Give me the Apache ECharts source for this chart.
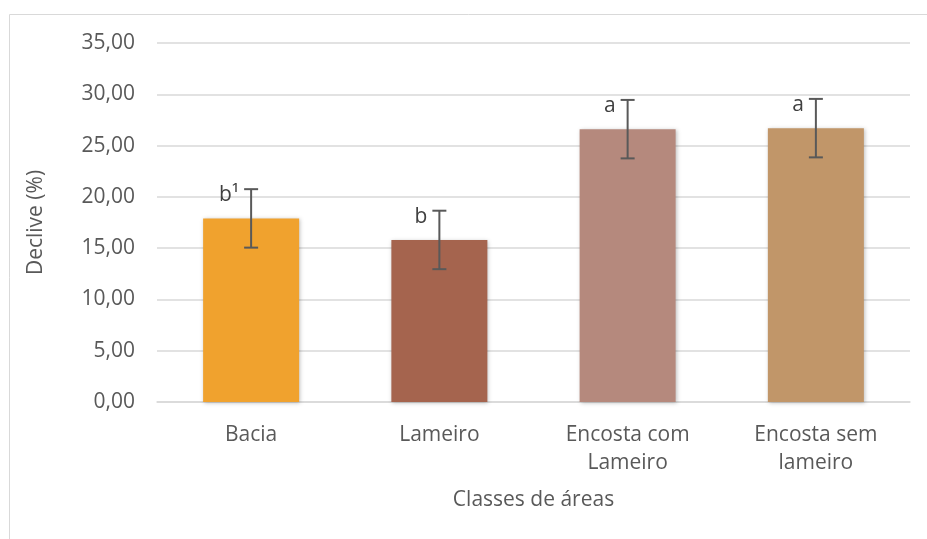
<!DOCTYPE html>
<html>
<head>
<meta charset="utf-8">
<script src="https://cdn.jsdelivr.net/npm/echarts@6/dist/echarts.min.js"></script>
<style>
  html, body { margin: 0; padding: 0; background: #fff; }
  #chart { width: 927px; height: 539px; }
</style>
</head>
<body>
<div id="chart"></div>
<script>
const categories = ['Bacia', 'Lameiro', 'Encosta com\nLameiro', 'Encosta sem\nlameiro']
const means = [17.9, 15.8, 26.6, 26.7]
const errors = [2.85, 2.85, 2.85, 2.85]
const letters = ['b¹', 'b', 'a', 'a']
const barColors = ['#F0A22E', '#A5644E', '#B5897D', '#C19669']

const chart = echarts.init(document.getElementById('chart'), null, { renderer: 'canvas' })

const textColor = '#595959'
const font = 'Open Sans'

const option = {
  animation: false,
  graphic: [{
    type: 'rect',
    shape: { x: 9.5, y: 14.5, width: 930, height: 540 },
    style: { fill: 'none', stroke: '#d9d9d9', lineWidth: 1 },
    silent: true,
  }],
  grid: { left: 157, right: 17, top: 43, bottom: 137 },
  xAxis: {
    type: 'category',
    data: categories,
    axisTick: { show: false },
    axisLine: { lineStyle: { color: '#d9d9d9', width: 1.5 } },
    axisLabel: { color: textColor, fontSize: 21, fontFamily: font, margin: 19, lineHeight: 28 },
    name: 'Classes de áreas',
    nameLocation: 'middle',
    nameGap: 88,
    nameTextStyle: { color: textColor, fontSize: 21, fontFamily: font },
  },
  yAxis: {
    type: 'value',
    min: 0,
    max: 35,
    interval: 5,
    axisLabel: {
      color: textColor, fontSize: 21, fontFamily: font, margin: 22,
      formatter: v => v.toFixed(2).replace('.', ','),
    },
    splitLine: { lineStyle: { color: '#d9d9d9', width: 1.5 } },
    name: 'Declive (%)',
    nameLocation: 'middle',
    nameGap: 110,
    nameTextStyle: { color: textColor, fontSize: 21, fontFamily: font },
  },
  series: [
    {
      type: 'bar',
      barWidth: '51%',
      data: means.map((v, i) => ({
        value: v,
        itemStyle: {
          color: barColors[i],
          shadowColor: 'rgba(0,0,0,0.25)',
          shadowBlur: 4,
          shadowOffsetX: 1,
          shadowOffsetY: 1,
        },
      })),
      z: 2,
    },
    {
      type: 'custom',
      data: means.map((v, i) => [i, v, errors[i]]),
      renderItem: (params, api) => {
        const i = api.value(0)
        const m = api.value(1)
        const e = api.value(2)
        const top = api.coord([i, m + e])
        const bot = api.coord([i, m - e])
        const hw = 7
        const st = { stroke: '#595959', lineWidth: 2 }
        return {
          type: 'group',
          children: [
            { type: 'line', shape: { x1: top[0], y1: top[1], x2: bot[0], y2: bot[1] }, style: st },
            { type: 'line', shape: { x1: top[0] - hw, y1: top[1], x2: top[0] + hw, y2: top[1] }, style: st },
            { type: 'line', shape: { x1: bot[0] - hw, y1: bot[1], x2: bot[0] + hw, y2: bot[1] }, style: st },
            {
              type: 'text',
              style: {
                text: letters[params.dataIndex],
                x: top[0] - 12,
                y: top[1] + 6,
                align: 'right',
                verticalAlign: 'middle',
                fill: '#404040',
                font: '21px ' + font,
              },
            },
          ],
        }
      },
      z: 3,
    },
  ],
}

chart.setOption(option)
</script>
</body>
</html>
